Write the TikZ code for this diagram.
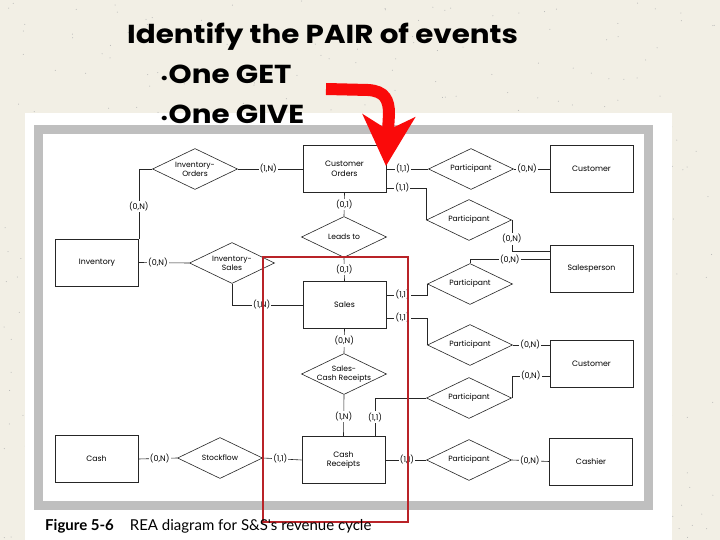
\documentclass[tikz,border=0pt]{standalone}
\usepackage{fontspec}
\usepackage{graphicx}
\usetikzlibrary{shapes.geometric,arrows.meta}

\newfontfamily\diagfont{Poppins}
\newfontfamily\titlefont{Poppins}
\newfontfamily\capfont{Lato}

\definecolor{paper}{RGB}{242,239,229}
\definecolor{boxred}{RGB}{185,35,40}
\definecolor{arrowred}{RGB}{250,10,10}

\newcommand{\slideline}[1]{\scalebox{1.13}[1]{#1}}

\begin{document}
\begin{tikzpicture}[x=1pt,y=-1pt,
    entity/.style ={rectangle, draw=black!85, line width=0.6pt, minimum width=83pt, minimum height=47pt,
                    inner sep=1pt, align=center, font=\diagfont\fontsize{7.8}{9.5}\selectfont},
    relation/.style={diamond, draw=black!85, line width=0.6pt, minimum width=85pt, minimum height=41pt,
                    inner xsep=-14pt, inner ysep=-5pt, align=center, font=\diagfont\fontsize{7.6}{9}\selectfont},
    card/.style    ={fill=white, inner sep=1.2pt, font=\diagfont\fontsize{8}{9}\selectfont},
    link/.style    ={draw=black!85, line width=0.6pt},
    slide/.style   ={anchor=base west, inner sep=0, font=\titlefont\bfseries\fontsize{26}{26}\selectfont}]
   % page, paper and frame
   \fill[paper] (0,0) rectangle (720,540);
   \pgfmathsetseed{11}
   \foreach \k in {1,...,500}
     \fill[black!30] ({rnd*720},{rnd*540}) circle (0.5);
   \fill[white] (25,113) rectangle (672,540);
   \draw[gray!50, line width=9pt] (38,130) rectangle (648,505);

   % resources, events, agents
   \node[entity] (inv)     at (97,262.5)   {Inventory};
   \node[entity] (cord)    at (344.5,169)  {Customer\\Orders};
   \node[entity] (cust1)   at (591.5,169)  {Customer};
   \node[entity] (salesp)  at (591.5,268.5){Salesperson};
   \node[entity] (sales)   at (344.5,305)  {Sales};
   \node[entity] (cust2)   at (591.5,363.5){Customer};
   \node[entity] (cashr)   at (343.5,460)  {Cash\\Receipts};
   \node[entity] (cash)    at (96.5,459)   {Cash};
   \node[entity] (cashier) at (591,461.5)  {Cashier};

   % relationships
   \node[relation] (io)    at (195,169) {Inventory-\\Orders};
   \node[relation] (is)    at (232,263) {Inventory-\\Sales};
   \node[relation] (leads) at (344,237) {Leads to};
   \node[relation] (scr)   at (344,374) {Sales-\\Cash Receipts};
   \node[relation] (stock) at (220,458) {Stockflow};
   \node[relation] (p1)    at (471,169) {Participant};
   \node[relation] (p2)    at (469,220) {Participant};
   \node[relation] (p3)    at (470,284) {Participant};
   \node[relation] (p4)    at (470,345) {Participant};
   \node[relation] (p5)    at (469,398) {Participant};
   \node[relation] (p6)    at (469,460) {Participant};

   \draw[link] (io.west) -| node[card,pos=0.77] {(0,N)} (inv.north east);
   \draw[link] (io.east) -- node[card,pos=0.47] {(1,N)} (cord.west);
   \draw[link] (cord.east) -- node[card,pos=0.4] {(1,1)} (p1.west);
   \draw[link] ([yshift=-19pt]cord.east) -| node[card,pos=0.2] {(1,1)} (p2.west);
   \draw[link] (p1.east) -- node[card,pos=0.37] {(0,N)} (cust1.west);
   \draw[link] (p2.east) |- node[card,pos=0.3] {(0,N)} ([yshift=17pt]salesp.west);
   \draw[link] ([yshift=9pt]salesp.west) -| node[card,pos=0.25] {(0,N)} (p3.north);
   \draw[link] ([yshift=10pt]sales.east) -| node[card,pos=0.2] {(1,1)} (p3.west);
   \draw[link] ([yshift=-13pt]sales.east) -| node[card,pos=0.2] {(1,1)} (p4.west);
   \draw[link] (p4.east) -- node[card,pos=0.47] {(0,N)} (p4.east -| cust2.west);
   \draw[link] (p5.east) |- node[card,pos=0.75] {(0,N)} ([yshift=-12.5pt]cust2.west);
   \draw[link] ([xshift=31.5pt]cashr.north) |- node[card,pos=0.25] {(1,1)} (p5.west);
   \draw[link] (cashr.east) -- node[card,pos=0.53] {(1,1)} (p6.west);
   \draw[link] (p6.east) -- node[card,pos=0.48] {(0,N)} (cashier.west);
   \draw[link] (sales.south) -- node[card] {(0,N)} (scr.north);
   \draw[link] (scr.south) -- node[card,pos=0.53] {(1,N)} (cashr.north);
   \draw[link] (cord.south) -- node[card] {(0,1)} (leads.north);
   \draw[link] (leads.south) -- node[card] {(0,1)} (sales.north);
   \draw[link] (inv.east) -- node[card,pos=0.38] {(0,N)} (is.west);
   \draw[link] (is.south) |- node[card,pos=0.71] {(1,N)} (sales.west);
   \draw[link] (cash.east) -- node[card,pos=0.55] {(0,N)} (stock.west);
   \draw[link] (stock.east) -- node[card,pos=0.45] {(1,1)} (cashr.west);

   % highlight
   \draw[boxred, line width=2pt] (263,257) rectangle (408,522);
   \draw[arrowred, line width=12pt, -{Stealth[length=50pt,width=52pt,inset=14pt]}]
     (326,89) -- (368,90) .. controls (385,91) and (389,100) .. (389,114) -- (386,166);

   % slide text
   \node[slide] (ttl)  at (127,44)  {\slideline{Identify the PAIR of events}};
   \node[slide] (get)  at (160,84)  {\slideline{{\fontsize{15}{15}\selectfont\textbullet}One GET}};
   \node[slide] (give) at (160,124) {\slideline{{\fontsize{15}{15}\selectfont\textbullet}One GIVE}};
   \node[anchor=base west, inner sep=0, font=\capfont\fontsize{15}{15}\selectfont]
     (fig) at (45,530) {\textbf{Figure 5-6}\hspace{16pt}REA diagram for S\&S's revenue cycle};
\end{tikzpicture}
\end{document}
